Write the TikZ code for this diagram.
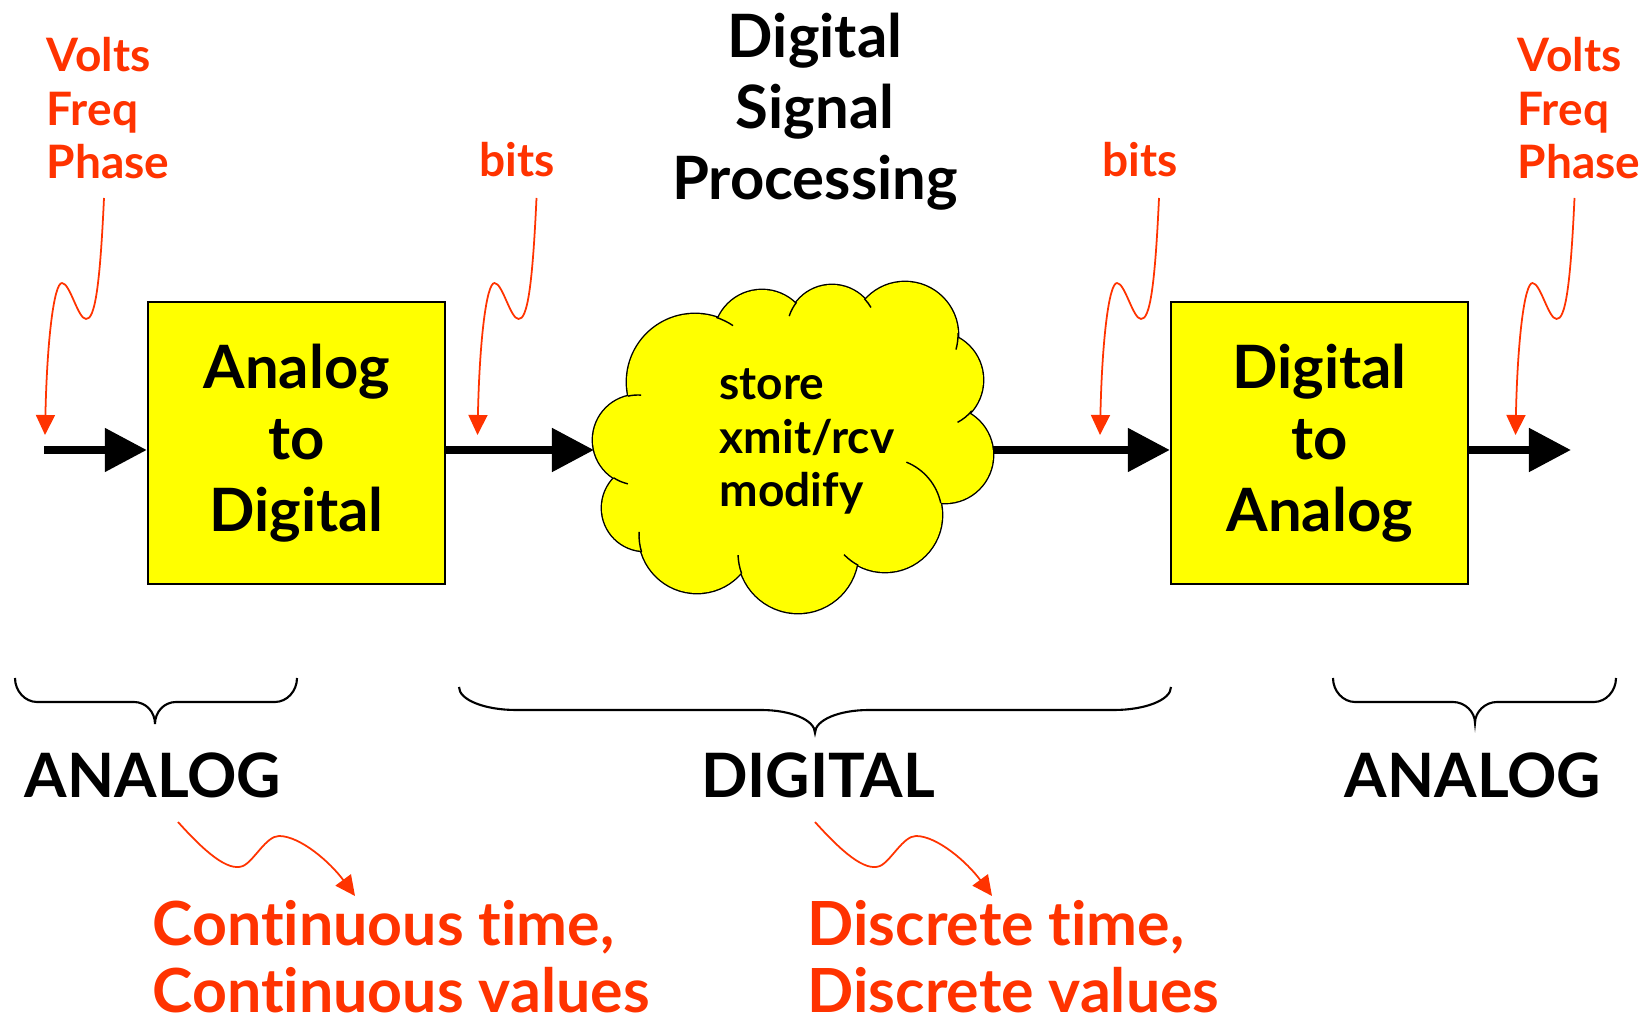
\documentclass[tikz,border=0pt]{standalone}
\usepackage{fontspec}
\setmainfont{Lato}[Ligatures=NoCommon]
\usetikzlibrary{arrows.meta}
\definecolor{hotred}{HTML}{FF3300}
\definecolor{boxyellow}{HTML}{FFFF00}
\tikzset{
  bigfont/.style={font=\fontsize{17}{20.3}\selectfont\bfseries},
  midfont/.style={font=\fontsize{13.1}{15.2}\selectfont\bfseries},
  capfont/.style={font=\fontsize{17.4}{21}\selectfont\bfseries},
  redbig/.style={font=\fontsize{17.3}{19.1}\selectfont\bfseries, text=hotred},
  txt/.style={inner sep=0pt},
  boxnode/.style={draw=black, line width=0.6pt, fill=boxyellow,
    minimum width=2.97cm, minimum height=2.82cm, inner sep=0pt,
    align=center, bigfont},
  mainarrow/.style={line width=0.8mm, -{Triangle[length=4.2mm,width=4.2mm]}},
  redline/.style={draw=hotred, line width=0.5pt,
    -{Triangle[length=2mm,width=1.9mm]}},
  bracepath/.style={line width=0.6pt},
  pics/dropsquig/.style={code={
    \draw[redline] (59,-237) .. controls (55,-150) and (50,-115) .. (41,-116)
      .. controls (33,-116) and (25,-152) .. (17,-152)
      .. controls (9,-152) and (2,-95) .. (0,0);}},
  pics/slidesquig/.style={code={
    \draw[redline] (0,0) .. controls (27,30) and (50,50) .. (65,44)
      .. controls (76,39) and (88,14) .. (101,14)
      .. controls (122,14) and (152,40) .. (177,74);}},
}
\begin{document}
\begin{tikzpicture}[x=0.01cm, y=-0.01cm]
\fill[white] (0,0) rectangle (1648,1022);
\useasboundingbox (0,0) rectangle (1648,1022);

% title
\node[txt, bigfont, align=center, anchor=north] (title) at (815,12)
  {Digital\\Signal\\Processing};

% cloud: union of puffs, outer outline only, plus inner creases
\def\puffs{695/382/68, 762/338/48, 832/330/45, 905/335/53, 935/380/48,
  945/455/48, 885/515/57, 798/553/60, 697/535/58, 645/508/43, 638/440/45}
\foreach \cx/\cy/\r in \puffs
  \draw[line width=0.8pt, fill=boxyellow] (\cx,\cy) circle[radius=\r];
\foreach \cx/\cy/\r in \puffs
  \fill[boxyellow] (\cx,\cy) circle[radius=\r];
\fill[boxyellow] (792,440) ellipse[x radius=150, y radius=110];
\foreach \cx/\cy/\r/\a/\b in {695/382/68/-72/-56, 832/330/45/218/198,
  832/330/45/-44/-30, 905/335/53/-2/16, 935/380/48/40/62,
  885/515/57/-12/-68, 885/515/57/118/136, 798/553/60/160/178,
  697/535/58/163/183, 638/440/45/123/103, 638/440/45/-103/-86}
  \draw[line width=0.4pt] ([shift={(\a:\r)}]\cx,\cy)
    arc[start angle=\a, end angle=\b, radius=\r];
\node[txt, midfont, align=left, anchor=north west] (cloudtxt) at (719,368)
  {store\\xmit/rcv\\modify};
\coordinate (cloudin) at (594,450);
\coordinate (cloudout) at (993,450);

% converter blocks
\node[boxnode] (adc) at (296.5,443) {Analog\\to\\Digital};
\node[boxnode] (dac) at (1319.5,443) {Digital\\to\\Analog};

% signal path
\coordinate (sigin) at (44,450);
\coordinate (sigout) at (1571,450);
\draw[mainarrow] (sigin) -- (sigin -| adc.west);
\draw[mainarrow] (adc.east |- cloudin) -- (cloudin);
\draw[mainarrow] (cloudout) -- (cloudout -| dac.west);
\draw[mainarrow] (dac.east |- sigout) -- (sigout);

% signal annotations
\node[txt, midfont, text=hotred, align=left, anchor=north west] (vfpL) at (46,37)
  {Volts\\Freq\\Phase};
\node[txt, midfont, text=hotred, align=left, anchor=north west] (vfpR) at (1517,37)
  {Volts\\Freq\\Phase};
\node[txt, midfont, text=hotred, anchor=base west] (bitsL) at (479,177) {bits};
\node[txt, midfont, text=hotred, anchor=base west] (bitsR) at (1102,177) {bits};
\coordinate (tipVL) at (45,435);
\coordinate (tipBL) at (477.5,435);
\coordinate (tipBR) at (1100,435);
\coordinate (tipVR) at (1515.5,435);
\pic at (tipVL) {dropsquig};
\pic at (tipBL) {dropsquig};
\pic at (tipBR) {dropsquig};
\pic at (tipVR) {dropsquig};

% domain braces
\draw[bracepath] (15,678) .. controls (15,691) and (25,702) .. (37,702)
  -- (134,702) .. controls (146,702) and (155,712) .. (155,724)
  .. controls (155,712) and (164,702) .. (176,702)
  -- (275,702) .. controls (287,702) and (297,691) .. (297,678);
\draw[bracepath] (459,687) .. controls (459,700) and (485,710) .. (516,710)
  -- (761,710) .. controls (791,710) and (815,720) .. (815,733)
  .. controls (815,720) and (839,710) .. (869,710)
  -- (1114,710) .. controls (1145,710) and (1171,700) .. (1171,687);
\draw[bracepath] (1333,678) .. controls (1333,691) and (1343,702) .. (1355,702)
  -- (1453,702) .. controls (1465,702) and (1475,712) .. (1475,723)
  .. controls (1475,712) and (1485,702) .. (1497,702)
  -- (1594,702) .. controls (1606,702) and (1616,691) .. (1616,678);

\node[txt, capfont, anchor=base] (anL) at (153,798) {ANALOG};
\node[txt, capfont, anchor=base] (digM) at (818,798) {DIGITAL};
\node[txt, capfont, anchor=base] (anR) at (1473,798) {ANALOG};

% domain descriptions
\coordinate (swL) at (178,822);
\coordinate (swD) at (815,822);
\pic at (swL) {slidesquig};
\pic at (swD) {slidesquig};
\node[txt, redbig, align=left, anchor=north west] (contL) at (152,900)
  {Continuous time,\\Continuous values};
\node[txt, redbig, align=left, anchor=north west] (discD) at (807,900)
  {Discrete time,\\Discrete values};
\end{tikzpicture}
\end{document}
